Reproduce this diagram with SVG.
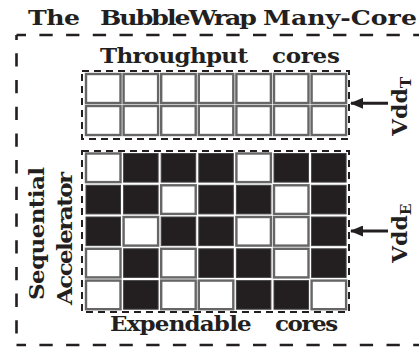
<svg xmlns="http://www.w3.org/2000/svg" width="419" height="347" viewBox="0 0 419 347">
<style>
.t{font-family:"DejaVu Serif","Liberation Serif",serif;font-weight:bold;fill:#231f20}
.w{fill:#fff;stroke:#666;stroke-width:2.4}
.b{fill:#231f20;stroke:#444;stroke-width:1}
.ob{fill:none;stroke:#231f20;stroke-width:2.6;stroke-dasharray:13.3 13.4}
.ib{fill:none;stroke:#231f20;stroke-width:2;stroke-dasharray:7 5}
.ar{stroke:#231f20;stroke-width:3;fill:none}
</style>
<defs>
<marker id="ah" markerWidth="13" markerHeight="11" refX="12" refY="5.5" orient="auto" markerUnits="userSpaceOnUse">
<path d="M0,0 L13,5.5 L0,11 Z" fill="#231f20"/>
</marker>
</defs>
<rect width="419" height="347" fill="#fff"/>
<g id="title"><text class="t" y="25.5" font-size="21" transform="scale(1.2,1)"><tspan x="23.33" textLength="43.3">The</tspan><tspan x="83.33" textLength="130.8">BubbleWrap</tspan><tspan x="219.17" textLength="128.3">Many-Core</tspan></text></g>
<g id="outer">
<line class="ob" x1="16.5" y1="35" x2="425" y2="35" stroke-dashoffset="3.8"/>
<line class="ob" x1="16.5" y1="345" x2="425" y2="345" stroke-dashoffset="3.8"/>
<line class="ob" x1="16.5" y1="35" x2="16.5" y2="347" stroke-dashoffset="8.4"/>
</g>
<g id="throughput">
<text class="t" y="63.5" font-size="20" transform="scale(1.15,1)"><tspan x="86.96" textLength="128.7">Throughput</tspan><tspan x="236.5" textLength="59.1">cores</tspan></text>
<rect class="ib" x="82" y="71" width="267" height="68"/>
<g id="tcells">
<rect class="w" x="86" y="74" width="34.5" height="29"/><rect class="w" x="123.6" y="74" width="34.5" height="29"/><rect class="w" x="161.2" y="74" width="34.5" height="29"/><rect class="w" x="198.8" y="74" width="34.5" height="29"/><rect class="w" x="236.4" y="74" width="34.5" height="29"/><rect class="w" x="274" y="74" width="34.5" height="29"/><rect class="w" x="311.6" y="74" width="34.5" height="29"/>
<rect class="w" x="86" y="106" width="34.5" height="29"/><rect class="w" x="123.6" y="106" width="34.5" height="29"/><rect class="w" x="161.2" y="106" width="34.5" height="29"/><rect class="w" x="198.8" y="106" width="34.5" height="29"/><rect class="w" x="236.4" y="106" width="34.5" height="29"/><rect class="w" x="274" y="106" width="34.5" height="29"/><rect class="w" x="311.6" y="106" width="34.5" height="29"/>
</g>
</g>
<g id="expendable">
<rect class="ib" x="82" y="151" width="267" height="161"/>
<g id="ecells">
<rect class="w" x="86" y="153.5" width="34.5" height="28.6"/><rect class="b" x="123.6" y="153.5" width="34.5" height="28.6"/><rect class="b" x="161.2" y="153.5" width="34.5" height="28.6"/><rect class="b" x="198.8" y="153.5" width="34.5" height="28.6"/><rect class="w" x="236.4" y="153.5" width="34.5" height="28.6"/><rect class="b" x="274" y="153.5" width="34.5" height="28.6"/><rect class="b" x="311.6" y="153.5" width="34.5" height="28.6"/>
<rect class="b" x="86" y="185.3" width="34.5" height="28.6"/><rect class="b" x="123.6" y="185.3" width="34.5" height="28.6"/><rect class="w" x="161.2" y="185.3" width="34.5" height="28.6"/><rect class="b" x="198.8" y="185.3" width="34.5" height="28.6"/><rect class="b" x="236.4" y="185.3" width="34.5" height="28.6"/><rect class="w" x="274" y="185.3" width="34.5" height="28.6"/><rect class="b" x="311.6" y="185.3" width="34.5" height="28.6"/>
<rect class="b" x="86" y="217" width="34.5" height="28.6"/><rect class="w" x="123.6" y="217" width="34.5" height="28.6"/><rect class="b" x="161.2" y="217" width="34.5" height="28.6"/><rect class="b" x="198.8" y="217" width="34.5" height="28.6"/><rect class="w" x="236.4" y="217" width="34.5" height="28.6"/><rect class="w" x="274" y="217" width="34.5" height="28.6"/><rect class="b" x="311.6" y="217" width="34.5" height="28.6"/>
<rect class="w" x="86" y="248.8" width="34.5" height="28.6"/><rect class="b" x="123.6" y="248.8" width="34.5" height="28.6"/><rect class="w" x="161.2" y="248.8" width="34.5" height="28.6"/><rect class="b" x="198.8" y="248.8" width="34.5" height="28.6"/><rect class="b" x="236.4" y="248.8" width="34.5" height="28.6"/><rect class="w" x="274" y="248.8" width="34.5" height="28.6"/><rect class="b" x="311.6" y="248.8" width="34.5" height="28.6"/>
<rect class="w" x="86" y="280.6" width="34.5" height="28.6"/><rect class="b" x="123.6" y="280.6" width="34.5" height="28.6"/><rect class="w" x="161.2" y="280.6" width="34.5" height="28.6"/><rect class="w" x="198.8" y="280.6" width="34.5" height="28.6"/><rect class="b" x="236.4" y="280.6" width="34.5" height="28.6"/><rect class="b" x="274" y="280.6" width="34.5" height="28.6"/><rect class="w" x="311.6" y="280.6" width="34.5" height="28.6"/>
</g>
<text class="t" y="331.5" font-size="20" transform="scale(1.15,1)"><tspan x="95.65" textLength="123.2">Expendable</tspan><tspan x="239.1" textLength="55">cores</tspan></text>
</g>
<g id="accel">
<text class="t" font-size="20" transform="translate(44,300) rotate(-90) scale(1.15,1)" textLength="115.7">Sequential</text>
<text class="t" font-size="20" transform="translate(72,305) rotate(-90) scale(1.15,1)" textLength="115.7">Accelerator</text>
</g>
<g id="vddT"><text class="t" font-size="20" transform="translate(407,136) rotate(-90) scale(1.1,1)">Vdd<tspan font-size="14" dy="4">T</tspan></text></g>
<g id="vddE"><text class="t" font-size="20" transform="translate(407,263) rotate(-90) scale(1.1,1)">Vdd<tspan font-size="14" dy="4">E</tspan></text></g>
<g id="connectors">
<line class="ar" x1="388" y1="103.3" x2="351" y2="103.3" marker-end="url(#ah)"/>
<line class="ar" x1="388" y1="231" x2="351" y2="231" marker-end="url(#ah)"/>
</g>
</svg>
